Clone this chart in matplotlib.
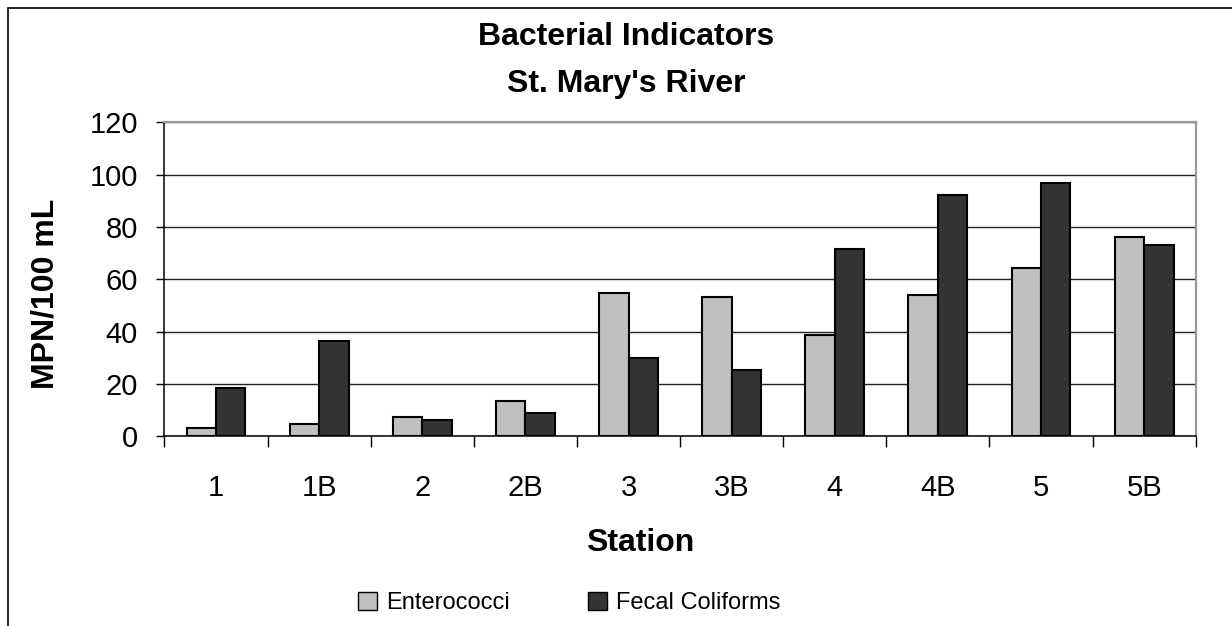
import numpy as np
import matplotlib
matplotlib.use("Agg")
import matplotlib.pyplot as plt
from matplotlib.patches import Patch, Rectangle

plt.rcParams['font.family'] = ['Liberation Sans', 'DejaVu Sans']

stations = ["1", "1B", "2", "2B", "3", "3B", "4", "4B", "5", "5B"]
enterococci = [3.3, 4.7, 7.2, 13.6, 54.7, 53.3, 38.8, 53.9, 64.4, 76.2]
fecal = [18.3, 36.5, 6.4, 8.8, 30.1, 25.4, 71.6, 92.1, 96.8, 73.1]
yticks = [0, 20, 40, 60, 80, 100, 120]

C_ENT = '#C0C0C0'
C_FEC = '#333333'

fig = plt.figure(figsize=(12.32, 6.26), dpi=100)
ax = fig.add_axes([0.1335, 0.303, 0.837, 0.5017])

x = np.arange(len(stations))
w = 0.2857
ax.bar(x - w / 2, enterococci, w, color=C_ENT, edgecolor='black', lw=1.5, zorder=3)
ax.bar(x + w / 2, fecal, w, color=C_FEC, edgecolor='black', lw=1.5, zorder=3)

ax.set_xlim(-0.5, len(stations) - 0.5)
ax.set_ylim(0, 120)
ax.set_yticks(yticks)
ax.set_yticklabels([str(v) for v in yticks], fontsize=21)
ax.set_xticks(x)
ax.set_xticklabels(stations, fontsize=21)
ax.set_xticks(np.arange(len(stations) + 1) - 0.5, minor=True)
ax.tick_params(axis='x', which='major', length=0, pad=27)
ax.tick_params(axis='x', which='minor', length=8, width=1, direction='out')
ax.tick_params(axis='y', length=6, width=1, direction='out', pad=13)

ax.set_axisbelow(True)
ax.yaxis.grid(True, color='#222222', lw=1)
for s in ['top', 'right']:
    ax.spines[s].set_color('#999999')
    ax.spines[s].set_linewidth(1.6)
for s in ['left', 'bottom']:
    ax.spines[s].set_color('black')
    ax.spines[s].set_linewidth(1.1)

fig.text(0.508, 0.941, "Bacterial Indicators", ha='center', va='center',
         fontsize=23, fontweight='bold')
fig.text(0.508, 0.866, "St. Mary's River", ha='center', va='center',
         fontsize=23, fontweight='bold')
fig.text(0.037, 0.53, "MPN/100 mL", ha='center', va='center', rotation=90,
         fontsize=23, fontweight='bold')
fig.text(0.520, 0.133, "Station", ha='center', va='center',
         fontsize=23, fontweight='bold')

handles = [Patch(facecolor=C_ENT, edgecolor='black', lw=1),
           Patch(facecolor=C_FEC, edgecolor='black', lw=1)]
fig.legend(handles, ["Enterococci", "Fecal Coliforms"], loc='center',
           bbox_to_anchor=(0.462, 0.037), ncol=2, frameon=False, fontsize=17,
           handlelength=0.8, handleheight=0.8, handletextpad=0.4,
           columnspacing=3.3)

fig.patches.append(Rectangle((8 / 1232, -0.2), 1.2, 1.2 - 8 / 626,
                             transform=fig.transFigure, fill=False,
                             edgecolor='black', lw=1.2))

fig.savefig("out.png", dpi=100)
